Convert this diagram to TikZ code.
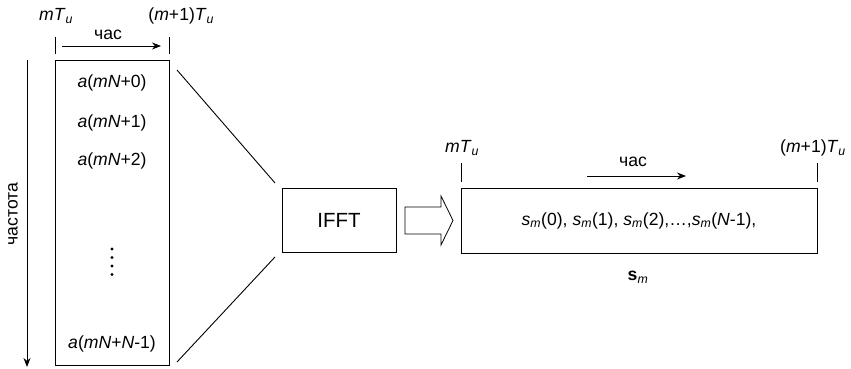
\documentclass[tikz,border=0pt]{standalone}
\usepackage{fontspec}
\setmainfont{Liberation Sans}
\usetikzlibrary{arrows.meta}
\newcommand{\lbl}{\fontsize{17.6}{21}\selectfont}
\newcommand{\isub}[1]{\textsubscript{\itshape #1}}
\begin{document}
\begin{tikzpicture}[x=1pt,y=-1pt,
  line width=0.9pt,
  every node/.style={font=\lbl, inner sep=0pt},
  blk/.style={draw, rectangle},
  tick/.style={line width=0.9pt},
  timearrow/.style={-{Stealth[length=9pt,width=7pt]}}]
\useasboundingbox (0,0) rectangle (851,369);

% column of frequency-domain samples
\node[blk, minimum width=114pt, minimum height=305pt] (col) at (112,212.5) {};
\node (a0) at (112,83) {\textit{a}(\textit{mN}+0)};
\node (a1) at (112,123) {\textit{a}(\textit{mN}+1)};
\node (a2) at (112,161) {\textit{a}(\textit{mN}+2)};
\node (aN) at (112,344) {\textit{a}(\textit{mN}+\textit{N}-1)};
\foreach \y in {249,257.5,266,274.5}
  \fill (112,\y) circle (1.7pt);

% time marks above the column
\coordinate (lt1) at (55,37);  \coordinate (lt2) at (55,54);
\coordinate (rt1) at (169,37); \coordinate (rt2) at (169,54);
\draw[tick] (lt1) -- (lt2);
\draw[tick] (rt1) -- (rt2);
\node (lmT) at (56,16) {\textit{mT}\isub{u}};
\node[anchor=west] (lm1T) at (148,16) {(\textit{m}+1)\textit{T}\isub{u}};
\coordinate (ta1) at (62,46); \coordinate (ta2) at (161,46);
\draw[timearrow] (ta1) -- (ta2);
\node (lchas) at (108,35) {час};

% frequency axis
\coordinate (f1) at (27,60); \coordinate (f2) at (27,367);
\draw[timearrow] (f1) -- (f2);
\node[rotate=90] (freq) at (13,214) {частота};

% IFFT block
\node[blk, minimum width=114pt, minimum height=64pt, font=\fontsize{20.5}{24}\selectfont] (ifft) at (339,220) {IFFT};
\coordinate (c1) at (177,70);  \coordinate (c2) at (275,183);
\coordinate (c3) at (177,362); \coordinate (c4) at (275,257);
\draw (c1) -- (c2);
\draw (c3) -- (c4);

% hollow block arrow
\draw[line width=0.8pt, line join=miter] (405,207) -- (441,207) -- (441,196) -- (453,220.5)
  -- (441,245) -- (441,234) -- (405,234) -- cycle;

% time-domain symbol
\node[blk, minimum width=356pt, minimum height=65pt] (sbox) at (639,220.5)
  {\textit{s}\isub{m}(0), \textit{s}\isub{m}(1), \textit{s}\isub{m}(2),\ldots,\textit{s}\isub{m}(\textit{N}-1),};
\coordinate (st1) at (461,163); \coordinate (st2) at (461,182);
\coordinate (st3) at (817,163); \coordinate (st4) at (817,182);
\draw[tick] (st1) -- (st2);
\draw[tick] (st3) -- (st4);
\node (rmT) at (462,148) {\textit{mT}\isub{u}};
\node (rm1T) at (813,148) {(\textit{m}+1)\textit{T}\isub{u}};
\coordinate (sa1) at (587,176); \coordinate (sa2) at (686,176);
\draw[timearrow] (sa1) -- (sa2);
\node (rchas) at (633,162) {час};
\node (sm) at (638,277) {\textbf{s}\isub{m}};
\end{tikzpicture}
\end{document}
